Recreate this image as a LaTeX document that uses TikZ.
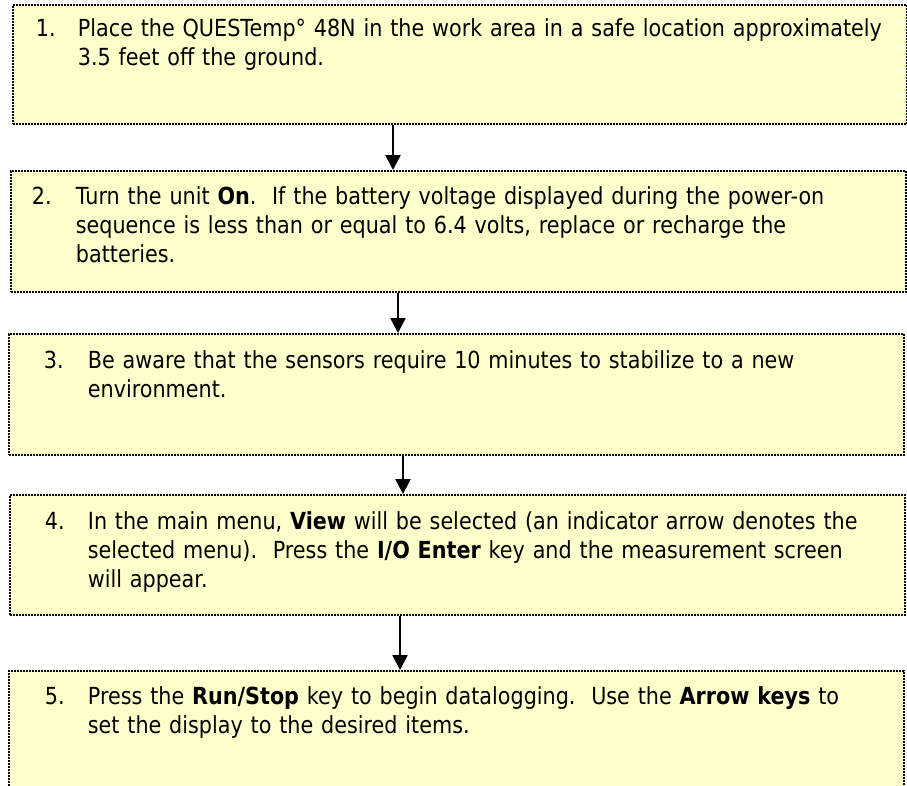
\documentclass[tikz,border=0pt]{standalone}
\usepackage{fontspec}
\setmainfont[FakeStretch=0.882]{DejaVu Sans}
\usepackage{xcolor}
\usetikzlibrary{arrows.meta}

\definecolor{stepyellow}{HTML}{FFFFCC}

% number in front, the text lines all start at the same left edge
\newcommand{\steplines}[4]{\leftskip=#2\noindent
  \hspace*{-\dimexpr#2-#1\relax}\makebox[\dimexpr#2-#1\relax][l]{#3.}#4\par}

\begin{document}
\begin{tikzpicture}[
  x=1pt, y=-1pt,
  font=\fontsize{23.5}{29}\selectfont,
  stepbox/.style={draw=black, fill=stepyellow, line width=1.8pt,
                  dash pattern=on 1.8pt off 1.2pt, inner sep=0pt,
                  anchor=north west, text width=895pt},
  arr/.style={-{Triangle[length=15pt, width=15pt]}, line width=2.6pt}
]
\useasboundingbox (0,0) rectangle (907,785);
\clip (0,0) rectangle (907,785);
% ----- step boxes -----
\node[stepbox, text width=894pt, text height=32pt, text depth=87pt] (box1) at (12,4)
  {\steplines{23pt}{65pt}{1}{Place the QUESTemp° 48N in the work area in a safe location approximately\newline
   3.5 feet off the ground.}};
\node[stepbox, text height=34pt, text depth=87pt] (box2) at (10,170)
  {\steplines{21pt}{65pt}{2}{Turn the unit \textbf{On}.\ \ If the battery voltage displayed during the power-on\newline
   sequence is less than or equal to 6.4 volts, replace or recharge the\newline
   batteries.}};
\node[stepbox, text height=35pt, text depth=86pt] (box3) at (8,333)
  {\steplines{35pt}{79pt}{3}{Be aware that the sensors require 10 minutes to stabilize to a new\newline
   environment.}};
\node[stepbox, text height=35pt, text depth=85pt] (box4) at (9,494)
  {\steplines{35pt}{78pt}{4}{In the main menu, \textbf{View} will be selected (an indicator arrow denotes the\newline
   selected menu).\ \ Press the \textbf{I/O Enter} key and the measurement screen\newline
   will appear.}};
\node[stepbox, text height=34pt, text depth=100pt] (box5) at (8,670)
  {\steplines{36pt}{79pt}{5}{Press the \textbf{Run/Stop} key to begin datalogging.\ \ Use the \textbf{Arrow keys} to\newline
   set the display to the desired items.}};
% ----- arrows down the column -----
\path ([xshift=381pt]box1.south west) coordinate (a1)
      ([xshift=388pt]box2.south west) coordinate (a2)
      ([xshift=395pt]box3.south west) coordinate (a3)
      ([xshift=391pt]box4.south west) coordinate (a4);
\draw[arr] (a1) -- (a1 |- box2.north);
\draw[arr] (a2) -- (a2 |- box3.north);
\draw[arr] (a3) -- (a3 |- box4.north);
\draw[arr] (a4) -- (a4 |- box5.north);
\end{tikzpicture}
\end{document}
